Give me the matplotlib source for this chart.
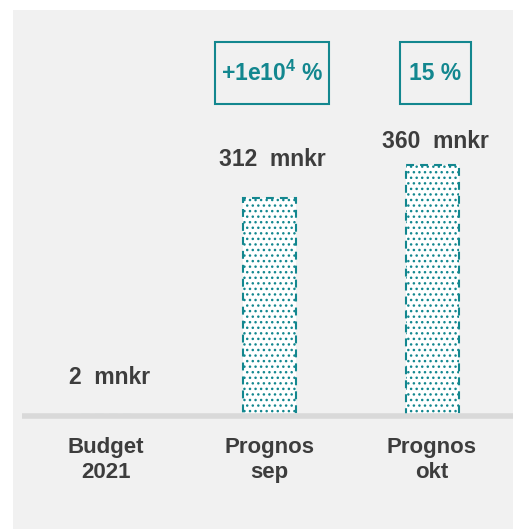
import matplotlib
matplotlib.use("Agg")
import matplotlib.pyplot as plt
from matplotlib.patches import Rectangle

categories = ["Budget\n2021", "Prognos\nsep", "Prognos\nokt"]
values = [2, 312, 360]
value_labels = ["2  mnkr", "312  mnkr", "360  mnkr"]
change_labels = [None, r"+1e10$^{\mathbf{4}}$ %", "15 %"]

TEAL = "#13878f"
TEXT = "#3d3d3d"
PANEL = "#f1f1f1"
BASE = "#d9d9d9"

plt.rcParams['font.family'] = ['Liberation Sans', 'DejaVu Sans']
plt.rcParams['mathtext.fontset'] = 'custom'
plt.rcParams['mathtext.bf'] = 'Liberation Sans:bold'
plt.rcParams['mathtext.rm'] = 'Liberation Sans:bold'

W, H = 513, 529
fig = plt.figure(figsize=(W / 100, H / 100), dpi=100)
fig.patch.set_facecolor("white")
fig.patches.append(Rectangle((13 / W, 0), 1 - 13 / W, (H - 10) / H,
                             transform=fig.transFigure, facecolor=PANEL,
                             edgecolor="none", zorder=-10))

ax = fig.add_axes([22 / W, 0, 1 - 22 / W, (H - 10) / H])
ax.set_facecolor("none")
for s in ax.spines.values():
    s.set_visible(False)
ax.set_xticks([])
ax.set_yticks([])

spacing = 163.0
x0px = 106.0
x = list(range(len(categories)))
ax.set_xlim(-(x0px - 22) / spacing, (513 - x0px) / spacing)
scale = 251 / 360.0
ax.set_ylim(-(529 - 416) / scale, (416 - 10) / scale)

ax.bar(x, values, width=53 / spacing, facecolor="white", edgecolor=TEAL,
       hatch="...", linewidth=1.5, linestyle=(0, (3.8, 2.9)), zorder=2)
ax.axhline(0, color=BASE, lw=4, zorder=3)

FS = 16.5
label_offsets = [37, 39, 23]
for xi, v, lab, off in zip(x, values, value_labels, label_offsets):
    ax.annotate(lab, (xi + 0.02, v), xytext=(0, off * 0.72), textcoords="offset points",
                ha="center", va="center", fontsize=FS, fontweight="bold", color=TEXT)

for xi, c in zip(x, categories):
    ax.annotate(c, (xi, 0), xytext=(0, -15), textcoords="offset points",
                ha="center", va="top", fontsize=16, fontweight="bold", color=TEXT,
                linespacing=1.25)

box_y = (416 - 73) / scale
texts = []
for xi, c in zip(x, change_labels):
    if c is None:
        continue
    t = ax.text(xi + 0.02, box_y, c, ha="center", va="center", fontsize=FS,
                fontweight="bold", color=TEAL)
    texts.append(t)

fig.canvas.draw()
r = fig.canvas.get_renderer()
for t in texts:
    bb = t.get_window_extent(r)
    padx = max(6, (71 - bb.width) / 2)
    cy = (bb.y0 + bb.y1) / 2
    fig.patches.append(Rectangle((bb.x0 - padx, cy - 31), bb.width + 2 * padx,
                                 62, transform=None, fill=False,
                                 edgecolor=TEAL, linewidth=1.5, zorder=5))

fig.savefig("out.png", dpi=100, facecolor=fig.get_facecolor())
